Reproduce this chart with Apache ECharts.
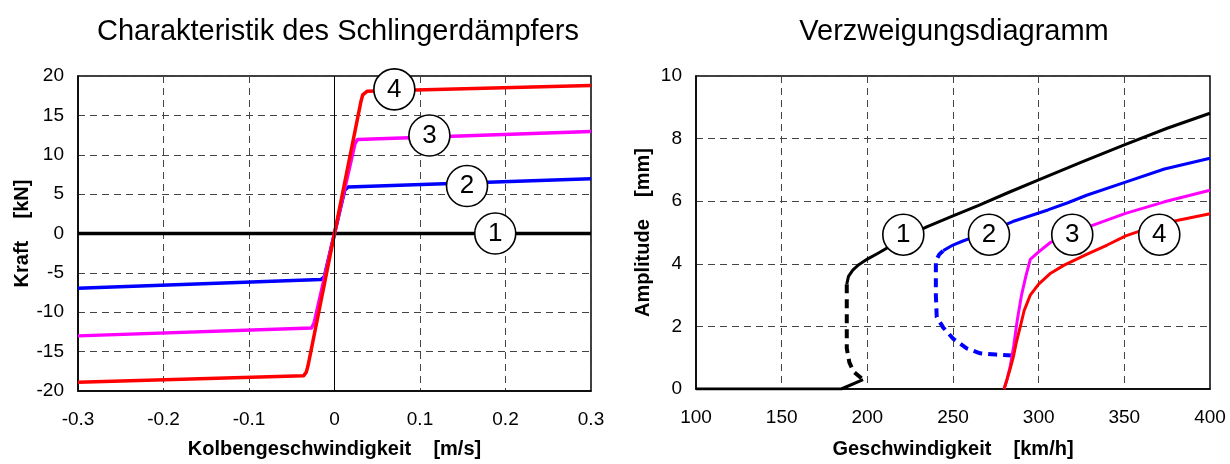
<!DOCTYPE html>
<html>
<head>
<meta charset="utf-8">
<script src="https://cdn.jsdelivr.net/npm/echarts@6/dist/echarts.min.js"></script>
<style>
html,body{margin:0;padding:0;background:#fff;}
#c{width:1230px;height:464px;}
</style>
</head>
<body>
<div id="c"></div>
<script>
// ---------- Left chart: Charakteristik des Schlingerdämpfers ----------
const leftTitle = 'Charakteristik des Schlingerdämpfers';
const leftXName = 'Kolbengeschwindigkeit    [m/s]';
const leftYName = 'Kraft    [kN]';
const damper1 = [[-0.3, 0], [0.3, 0]];
const damper2 = [[-0.3, -6.95], [-0.016, -5.85], [-0.012, -5.5], [0.012, 5.5], [0.016, 5.9], [0.3, 6.95]];
const damper3 = [[-0.3, -13.0], [-0.027, -12.0], [-0.024, -11.4], [0.024, 11.4], [0.027, 11.95], [0.3, 12.95]];
const damper4 = [[-0.3, -18.9], [-0.036, -18.05], [-0.033, -17.6], [-0.031, -16.8], [0.031, 16.8], [0.033, 17.6], [0.038, 18.05], [0.3, 18.8]];
const leftMarkers = [[0.188, 0, '1'], [0.155, 6.03, '2'], [0.111, 12.45, '3'], [0.07, 18.3, '4']];

// ---------- Right chart: Verzweigungsdiagramm ----------
const rightTitle = 'Verzweigungsdiagramm';
const rightXName = 'Geschwindigkeit    [km/h]';
const rightYName = 'Amplitude    [mm]';
const branch1Solid = [[188, 3.35], [189, 3.6], [191.5, 3.8], [195, 3.97], [200, 4.15], [206, 4.33], [212, 4.52], [222, 4.85], [235, 5.19], [250, 5.53], [265, 5.87], [282, 6.27], [300, 6.68], [325, 7.25], [350, 7.8], [375, 8.33], [400, 8.81]];
const branch1Dashed = [[188, 3.35], [188, 2.4], [188, 1.3], [189.5, 0.85], [192, 0.55], [197.5, 0.3]];
const branch1Base = [[100, 0], [184.8, 0], [197.5, 0.3]];
const branch2Solid = [[244.3, 4.42], [250, 4.6], [255.4, 4.72], [262, 4.85], [272, 5.05], [284.9, 5.35], [305.4, 5.72], [317, 5.95], [328, 6.19], [350.7, 6.61], [373.4, 7.03], [400, 7.37]];
const branch2Dashed = [[284.5, 1.07], [275, 1.1], [265.8, 1.14], [258, 1.3], [250.2, 1.6], [244.3, 1.96], [240.5, 2.3], [240, 3.0], [240, 4.1], [242, 4.3], [244.3, 4.42]];
const branch3 = [[279.8, 0], [281.5, 0.3], [283.5, 0.75], [285.5, 1.4], [287.5, 2.2], [290, 3.0], [292.5, 3.6], [295.1, 4.14], [300, 4.38], [306.8, 4.68], [315, 4.9], [332.6, 5.25], [350.7, 5.61], [373.4, 5.98], [400, 6.35]];
const branch4 = [[279.8, 0], [281.5, 0.3], [283.4, 0.65], [285.4, 1.07], [287, 1.5], [289.3, 2.0], [291.5, 2.5], [295.1, 3.0], [300, 3.35], [307, 3.7], [314.6, 3.95], [328.3, 4.31], [340, 4.6], [350.8, 4.89], [362, 5.1], [373, 5.3], [385, 5.43], [400, 5.6]];
const rightMarkers = [[221, 4.93, '1'], [271, 4.93, '2'], [319.6, 4.93, '3'], [370.4, 4.93, '4']];

const FONT = "'Liberation Sans', Arial, Helvetica, sans-serif";
const gridLine = { show: true, lineStyle: { color: '#444', width: 1, type: [7, 5] } };

function valueAxis(gi, min, max, interval, name, gap, margin) {
  return {
    type: 'value', gridIndex: gi, min: min, max: max, interval: interval,
    name: name, nameLocation: 'middle', nameGap: gap,
    nameTextStyle: { fontFamily: FONT, fontWeight: 'bold', fontSize: 20, color: '#000' },
    axisLine: { show: true, onZero: false, lineStyle: { color: '#000', width: 1.5 } },
    axisTick: { show: false },
    axisLabel: { fontFamily: FONT, fontSize: 19, color: '#000', margin: margin },
    splitLine: gridLine
  };
}

function markerSeries(xi, yi, pts) {
  return {
    type: 'scatter', xAxisIndex: xi, yAxisIndex: yi, z: 10,
    symbol: 'circle', symbolSize: 41,
    data: pts.map(p => ({ value: [p[0], p[1]], name: p[2] })),
    itemStyle: { color: '#fff', borderColor: '#000', borderWidth: 1.6, opacity: 1 },
    label: { show: true, position: 'inside', formatter: p => p.name, fontFamily: FONT, fontSize: 26, color: '#000' },
    emphasis: { disabled: true }, silent: true
  };
}

function line(xi, yi, data, color, width, dashed, z) {
  return {
    type: 'line', xAxisIndex: xi, yAxisIndex: yi, data: data, z: z || 3,
    showSymbol: false, symbol: 'none', smooth: false, silent: true,
    lineStyle: { color: color, width: width, type: dashed ? dashed : 'solid', cap: 'butt', join: 'round' }
  };
}

const chart = echarts.init(document.getElementById('c'), null, { renderer: 'canvas' });
chart.setOption({
  animation: false,
  backgroundColor: '#fff',
  title: [
    { text: leftTitle, left: 333, top: 12, textAlign: 'center', textStyle: { fontFamily: FONT, fontWeight: 'normal', fontSize: 29, color: '#000' } },
    { text: rightTitle, left: 949, top: 12, textAlign: 'center', textStyle: { fontFamily: FONT, fontWeight: 'normal', fontSize: 29, color: '#000' } }
  ],
  grid: [
    { left: 78, top: 76, width: 513, height: 318, show: true, borderColor: '#000', borderWidth: 1.5, backgroundColor: 'transparent' },
    { left: 696, top: 76, width: 514, height: 318, show: true, borderColor: '#000', borderWidth: 1.5, backgroundColor: 'transparent' }
  ],
  xAxis: [
    valueAxis(0, -0.3, 0.3, 0.1, leftXName, 48, 19),
    valueAxis(1, 100, 400, 50, rightXName, 50, 19)
  ],
  yAxis: [
    valueAxis(0, -20, 20, 5, leftYName, 46, 14),
    valueAxis(1, 0, 10, 2, rightYName, 43, 14)
  ],
  series: [
    Object.assign(line(0, 0, damper1, '#000', 3.5), {
      markLine: { silent: true, symbol: ['none', 'none'], label: { show: false },
        lineStyle: { color: '#000', width: 1, type: 'solid' }, data: [{ xAxis: 0 }] }
    }),
    line(0, 0, damper2, '#0000ff', 3.5),
    line(0, 0, damper3, '#ff00ff', 3.5),
    line(0, 0, damper4, '#ff0000', 3.5),
    markerSeries(0, 0, leftMarkers),
    line(1, 1, branch1Base, '#000', 3),
    line(1, 1, branch1Solid, '#000', 3),
    line(1, 1, branch1Dashed, '#000', 4, [9, 6]),
    line(1, 1, branch2Solid, '#0000ff', 3),
    line(1, 1, branch2Dashed, '#0000ff', 4, [9, 6]),
    line(1, 1, branch3, '#ff00ff', 3),
    line(1, 1, branch4, '#ff0000', 3),
    markerSeries(1, 1, rightMarkers)
  ]
});
</script>
</body>
</html>
